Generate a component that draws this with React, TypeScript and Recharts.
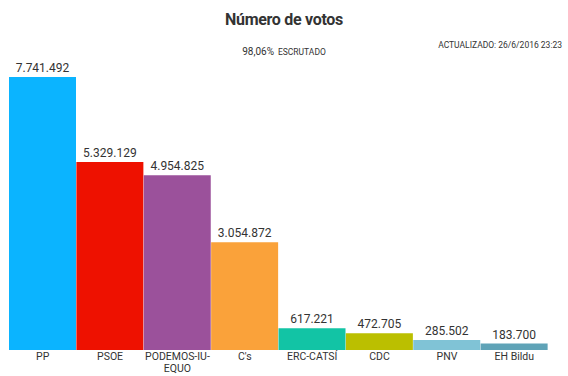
import { BarChart, Bar, XAxis, YAxis, Cell, LabelList } from 'recharts';

// Resultados generales 26J
const parties = ['PP', 'PSOE', 'PODEMOS-IU-EQUO', "C's", 'ERC-CATSÍ', 'CDC', 'PNV', 'EH Bildu'];
const votes = [7741492, 5329129, 4954825, 3054872, 617221, 472705, 285502, 183700];
const colors = ['#0BB4FF', '#EE1100', '#9B519B', '#FAA23A', '#12C4A5', '#BBBF00', '#80C3D6', '#5FA3B7'];

const data = parties.map((name, i) => ({ name, votes: votes[i] }));

const fmt = (v: number) => String(v).replace(/\B(?=(\d{3})+(?!\d))/g, '.');

const PartyTick = (props: any) => {
  const { x, y, payload } = props;
  const label: string = payload.value;
  // partir etiquetas largas después del último guion
  let lines = [label];
  if (label.length > 12 && label.includes('-')) {
    const idx = label.lastIndexOf('-');
    lines = [label.slice(0, idx + 1), label.slice(idx + 1)];
  }
  return (
    <text x={x} y={y + 2} textAnchor="middle" fill="#333" fontSize={10.5} fontFamily="Roboto">
      {lines.map((l, i) => (
        <tspan key={i} x={x} dy={i === 0 ? 0 : 12}>{l}</tspan>
      ))}
    </text>
  );
};

export default function App() {
  return (
    <div style={{ position: 'absolute', left: 0, top: 0, width: 568, height: 376, background: '#fff', fontFamily: 'Roboto' }}>
      <div style={{ position: 'absolute', top: 10, width: '100%', textAlign: 'center', fontSize: 16, fontWeight: 700, color: '#333', letterSpacing: -0.3 }}>
        Número de votos
      </div>
      <div style={{ position: 'absolute', top: 40, width: '100%', textAlign: 'center', color: '#333' }}>
        <span style={{ fontSize: 10 }}>98,06%</span> <span style={{ fontSize: 8.5 }}>ESCRUTADO</span>
      </div>
      <div style={{ position: 'absolute', top: 40, right: 6, fontSize: 8.5, color: '#333' }}>
        ACTUALIZADO: 26/6/2016 23:23
      </div>
      <div style={{ position: 'absolute', left: 0, top: 0 }}>
        <BarChart width={568} height={376} data={data} margin={{ top: 77, right: 20, left: 9, bottom: 0 }} barCategoryGap={0}>
          <XAxis dataKey="name" axisLine={false} tickLine={false} interval={0} tick={<PartyTick />} height={26} />
          <YAxis hide domain={[0, 7741492]} />
          <Bar dataKey="votes" isAnimationActive={false}>
            {data.map((d, i) => (
              <Cell key={d.name} fill={colors[i]} />
            ))}
            <LabelList dataKey="votes" position="top" offset={5} formatter={(v: any) => fmt(v)} fill="#333" fontSize={12} fontWeight={400} fontFamily="Roboto" />
          </Bar>
        </BarChart>
      </div>
    </div>
  );
}
